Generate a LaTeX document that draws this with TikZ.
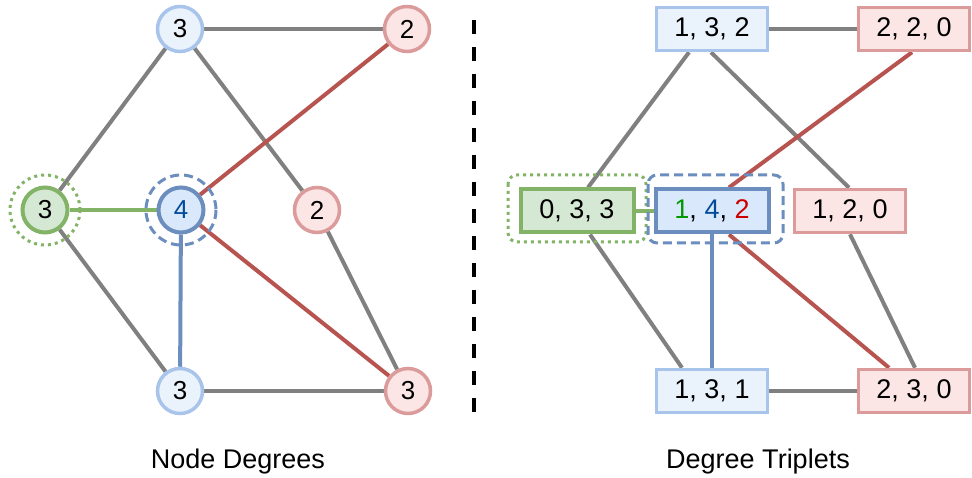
\documentclass[tikz,border=0pt]{standalone}
\usepackage{fontspec}
\setmainfont{Liberation Sans}
\usetikzlibrary{calc,backgrounds}
\definecolor{lblue}{RGB}{234,242,252}
\definecolor{lbluedraw}{RGB}{169,196,235}
\definecolor{sblue}{RGB}{218,232,252}
\definecolor{sbluedraw}{RGB}{108,142,191}
\definecolor{lred}{RGB}{252,229,229}
\definecolor{lreddraw}{RGB}{220,155,155}
\definecolor{sgreen}{RGB}{213,232,212}
\definecolor{sgreendraw}{RGB}{130,179,102}
\definecolor{edgegray}{RGB}{128,128,128}
\definecolor{edgered}{RGB}{184,84,80}
\definecolor{txtblue}{RGB}{0,76,153}
\definecolor{txtgreen}{RGB}{0,153,0}
\definecolor{txtred}{RGB}{204,0,0}

\begin{document}
\begin{tikzpicture}[x=1pt, y=-1pt,
    deg/.style={circle, minimum size=45pt, inner sep=0pt, line width=3.5pt, font=\fontsize{26}{31}\selectfont},
    trip/.style={rectangle, minimum width=111pt, minimum height=43pt, inner sep=0pt, line width=3.5pt, font=\fontsize{27}{32}\selectfont},
    plain/.style={draw=lbluedraw, fill=lblue},
    hot/.style={draw=lreddraw, fill=lred},
    seed/.style={draw=sgreendraw, fill=sgreen, line width=4pt},
    focus/.style={draw=sbluedraw, fill=sblue, line width=4pt},
    edge/.style={line width=4pt, draw=edgegray},
    caption/.style={font=\fontsize{27}{32}\selectfont}
]
    \useasboundingbox (0,0) rectangle (972,478);

    % node degrees
    \node[deg, plain] (a) at (180,29) {3};
    \node[deg, hot] (b) at (407,29) {2};
    \node[deg, seed] (c) at (45,210) {3};
    \node[deg, focus, text=txtblue] (d) at (181,210) {4};
    \node[deg, hot] (e) at (317,210) {2};
    \node[deg, plain] (f) at (180,391) {3};
    \node[deg, hot] (g) at (408,391) {3};

    \begin{scope}[on background layer]
    \draw[edge] (a) -- (b);
    \draw[edge] (a) -- (c);
    \draw[edge] (a) -- (e);
    \draw[edge, draw=edgered] (b) -- (d);
    \draw[edge, draw=sgreendraw] (c) -- (d);
    \draw[edge] (c) -- (f);
    \draw[edge, draw=sbluedraw] (d) -- (f);
    \draw[edge, draw=edgered] (d) -- (g);
    \draw[edge] (e) -- (g);
    \draw[edge] (f) -- (g);
    \end{scope}

    \draw[sgreendraw, line width=3pt, dash pattern=on 3pt off 4pt] (c) circle (35);
    \draw[sbluedraw, line width=3pt, dash pattern=on 9pt off 5pt] (d) circle (35);

    % divider
    \coordinate (top) at (474,20);
    \coordinate (bot) at (474,413);
    \draw[line width=4pt, dash pattern=on 14pt off 13pt] (top) -- (bot);

    % degree triplets
    \node[trip, plain] (t132) at (712,29) {1, 3, 2};
    \node[trip, hot] (t220) at (914,29) {2, 2, 0};
    \node[trip, seed, minimum width=113pt] (t033) at (577,211) {0, 3, 3};
    \node[trip, focus, minimum width=113pt] (t142) at (712,211) {\textcolor{txtgreen}{1}, \textcolor{txtblue}{4}, \textcolor{txtred}{2}};
    \node[trip, hot] (t120) at (850,211) {1, 2, 0};
    \node[trip, plain] (t131) at (712,391) {1, 3, 1};
    \node[trip, hot] (t230) at (914,391) {2, 3, 0};

    \begin{scope}[on background layer]
    \draw[edge] (t132) -- (t220);
    \draw[edge] ([xshift=-23pt]t132.south) -- ([xshift=11pt]t033.north);
    \draw[edge] ([xshift=-1pt]t132.south) -- ([xshift=-1pt]t120.north);
    \draw[edge, draw=edgered] ([xshift=-2pt]t220.south) -- ([xshift=17pt]t142.north);
    \draw[edge, draw=sgreendraw] (t033) -- (t142);
    \draw[edge] ([xshift=13pt]t033.south) -- ([xshift=-30pt]t131.north);
    \draw[edge, draw=sbluedraw] (t142) -- (t131);
    \draw[edge, draw=edgered] ([xshift=17pt]t142.south) -- ([xshift=-25pt]t230.north);
    \draw[edge] (t120.south) -- ([xshift=1pt]t230.north);
    \draw[edge] (t131) -- (t230);
    \end{scope}

    \draw[sgreendraw, line width=3pt, dash pattern=on 3pt off 4pt, rounded corners=9pt] (508,175) rectangle (646,242);
    \draw[sbluedraw, line width=3pt, dash pattern=on 9pt off 5pt, rounded corners=9pt] (648,175) rectangle (783,243);

    \node[caption] (lcap) at (238,462) {Node Degrees};
    \node[caption] (rcap) at (758,462) {Degree Triplets};

\end{tikzpicture}
\end{document}
